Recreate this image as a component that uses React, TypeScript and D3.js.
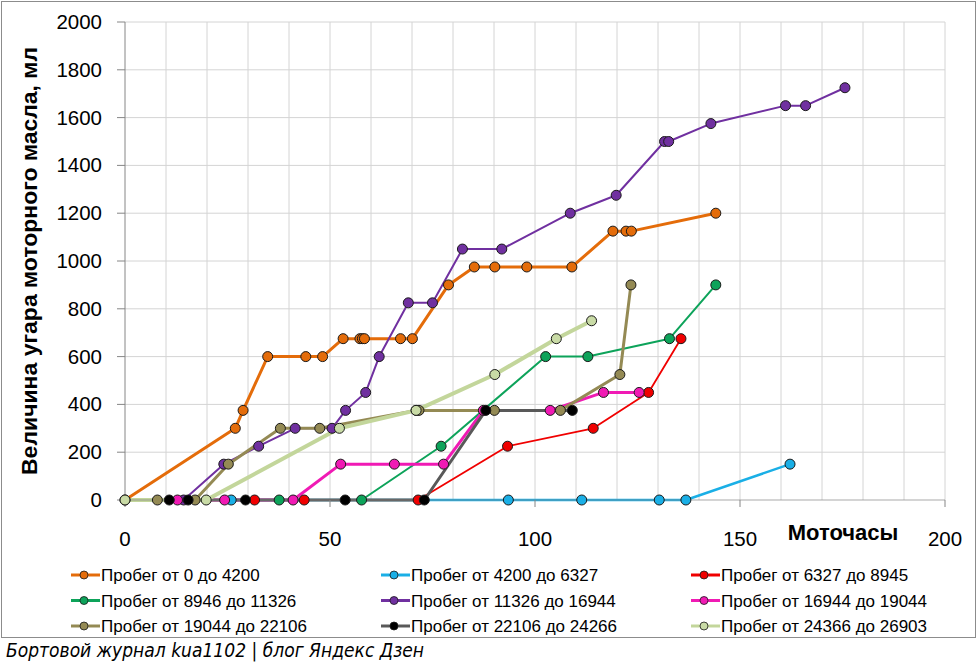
import React from "react";
import * as d3 from "d3";

type Pt = [number, number];

const s1: Pt[] = [[0,0],[26.9,300],[28.8,375],[34.8,600],[44.1,600],[48.2,600],[53.2,675],[57.3,675],[57.9,675],[58.4,675],[67.2,675],[70.1,675],[78.9,900],[85.2,975],[90.2,975],[98,975],[109,975],[119,1125],[122.2,1125],[123.5,1125],[144.1,1200]];
const s2: Pt[] = [[25.9,0],[93.5,0],[111.4,0],[130.3,0],[136.8,0],[162.2,150]];
const s3: Pt[] = [[31.6,0],[43.7,0],[71.5,0],[93.3,225],[114.2,300],[127.7,450],[135.6,675]];
const s4: Pt[] = [[37.6,0],[57.7,0],[77.1,225],[102.6,600],[112.9,600],[132.8,675],[144.1,900]];
const s5: Pt[] = [[14.3,0],[24.1,150],[32.6,225],[41.5,300],[50.5,300],[53.8,375],[58.7,450],[62,600],[69.1,825],[75,825],[82.3,1050],[91.9,1050],[108.6,1200],[119.8,1275],[131.6,1500],[132.6,1500],[142.9,1575],[161.1,1650],[166,1650],[175.6,1725]];
const s6: Pt[] = [[12.8,0],[24.3,0],[41,0],[52.6,150],[65.7,150],[77.7,150],[87.4,375],[103.7,375],[116.7,450],[125.4,450]];
const s7: Pt[] = [[7.9,0],[17.1,0],[25.2,150],[37.9,300],[47.5,300],[71,375],[71.7,375],[90.1,375],[106.2,375],[120.7,525],[123.4,900]];
const s8: Pt[] = [[10.8,0],[15.4,0],[29.4,0],[53.7,0],[73,0],[88,375],[109.1,375]];
const s9: Pt[] = [[0,0],[19.8,0],[52.3,300],[71,375],[90.2,525],[105.2,675],[113.8,750]];

const seriesNames = [
  "Пробег от 0 до 4200",
  "Пробег от 4200 до 6327",
  "Пробег от 6327 до 8945",
  "Пробег от 8946 до 11326",
  "Пробег от 11326 до 16944",
  "Пробег от 16944 до 19044",
  "Пробег от 19044 до 22106",
  "Пробег от 22106 до 24266",
  "Пробег от 24366 до 26903",
];
const seriesData = [s1, s2, s3, s4, s5, s6, s7, s8, s9];
const lineColors = ["#E46C0A", "#1AAFE6", "#F00000", "#0DA35A", "#7030A0", "#F01AB4", "#948A54", "#595959", "#C3D69B"];
const markerColors = ["#E46C0A", "#1AAFE6", "#F00000", "#0DA35A", "#7030A0", "#F01AB4", "#948A54", "#000000", "#C9DBA6"];
const lineWidths = [3, 2.5, 1.8, 2, 2, 3, 3, 3, 4];

const yTicks = [0, 200, 400, 600, 800, 1000, 1200, 1400, 1600, 1800, 2000];
const xTicks = [0, 50, 100, 150, 200];
const xGrid = d3.range(10, 201, 10);

const yTitle = "Величина угара моторного масла, мл";
const xTitle = "Моточасы";
const footer = "Бортовой журнал kua1102 | блог Яндекс Дзен";

export default function App() {
  const W = 980, H = 663;
  const x = d3.scaleLinear().domain([0, 200]).range([125, 945]);
  const y = d3.scaleLinear().domain([0, 2000]).range([500, 22]);
  const line = d3.line<Pt>().x(d => x(d[0])).y(d => y(d[1]));
  const font = "'Liberation Sans', Arial, sans-serif";

  return (
    <svg width={W} height={H} style={{ position: "absolute", left: 0, top: 0, background: "#fff" }} fontFamily={font}>
      <rect x={0} y={0} width={W} height={H} fill="#fff" />
      <rect x={1.5} y={1.5} width={974} height={636} fill="none" stroke="#8c8c8c" strokeWidth={1} />
      {xGrid.map(v => (
        <line key={"gx" + v} x1={x(v)} x2={x(v)} y1={y(2000)} y2={y(0)} stroke="#d4d4d4" strokeWidth={1} />
      ))}
      {yTicks.filter(v => v > 0).map(v => (
        <line key={"gy" + v} x1={x(0)} x2={x(200)} y1={y(v)} y2={y(v)} stroke="#d4d4d4" strokeWidth={1} />
      ))}
      {seriesData.map((s, i) => (
        <path key={"l" + i} d={line(s) || ""} fill="none" stroke={lineColors[i]} strokeWidth={lineWidths[i]} strokeLinejoin="round" />
      ))}
      <line x1={x(0)} x2={x(0)} y1={y(2000)} y2={y(0)} stroke="#868686" strokeWidth={1} />
      <line x1={x(0)} x2={x(200)} y1={y(0)} y2={y(0)} stroke="#868686" strokeWidth={1} opacity={0.7} />
      {yTicks.map(v => (
        <line key={"ty" + v} x1={x(0) - 8} x2={x(0)} y1={y(v)} y2={y(v)} stroke="#868686" />
      ))}
      {xTicks.map(v => (
        <line key={"tx" + v} x1={x(v)} x2={x(v)} y1={y(0)} y2={y(0) + 7} stroke="#868686" />
      ))}
      {seriesData.map((s, i) => (
        <g key={"m" + i}>
          {s.map((d, j) => (
            <circle key={j} cx={x(d[0])} cy={y(d[1])} r={5} fill={markerColors[i]} stroke="#1a1a1a" strokeWidth={1} />
          ))}
        </g>
      ))}
      {yTicks.map(v => (
        <text key={"ly" + v} x={102} y={y(v) + 7} textAnchor="end" fontSize={20.5} fill="#000">{v}</text>
      ))}
      {xTicks.map(v => (
        <text key={"lx" + v} x={x(v)} y={546} textAnchor="middle" fontSize={20.5} fill="#000">{v}</text>
      ))}
      <text x={843} y={540} textAnchor="middle" fontSize={22} fontWeight="bold" fill="#000">{xTitle}</text>
      <text transform={`translate(37,261) rotate(-90)`} textAnchor="middle" fontSize={22} fontWeight="bold" fill="#000" textLength={428} lengthAdjust="spacingAndGlyphs">{yTitle}</text>
      {seriesNames.map((n, i) => {
        const col = i % 3, row = Math.floor(i / 3);
        const lx = 71 + col * 310;
        const ly = 575 + row * 25.5;
        return (
          <g key={"lg" + i}>
            <line x1={lx} x2={lx + 29} y1={ly} y2={ly} stroke={lineColors[i]} strokeWidth={3} />
            <circle cx={lx + 13} cy={ly} r={4} fill={markerColors[i]} stroke="#1a1a1a" strokeWidth={0.8} />
            <text x={lx + 30} y={ly + 6} fontSize={17} fill="#000">{n}</text>
          </g>
        );
      })}
      <text x={6} y={657} fontSize={19} fontStyle="italic" fill="#000" fontFamily="'DejaVu Sans', sans-serif" textLength={418} lengthAdjust="spacingAndGlyphs">{footer}</text>
    </svg>
  );
}
